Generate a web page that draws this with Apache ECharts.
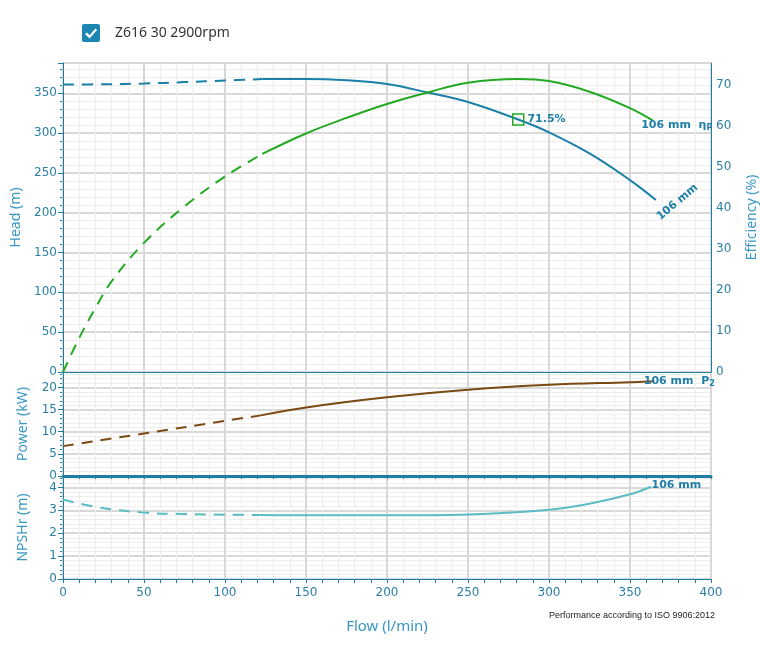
<!DOCTYPE html>
<html><head><meta charset="utf-8">
<script src="https://cdn.jsdelivr.net/npm/echarts@6/dist/echarts.min.js"></script>
<style>html,body{margin:0;padding:0;background:#fff}#c{width:760px;height:653px}</style>
</head><body><div id="c"></div>
<script>
// ---------------- data ----------------
const seriesName = 'Z616 30 2900rpm';
const impeller = '106 mm';
const footnote = 'Performance according to ISO 9906:2012';

// Head (m) vs flow (l/min)
const headDashFlow = [0, 25, 50, 75, 100, 123];
const headDashVal  = [361, 361.3, 362.2, 364, 366, 367.8];
const headFlow = [123, 150, 175, 200, 225, 250, 281, 300, 325, 350, 366];
const headVal  = [367.8, 368, 366.3, 361.5, 351, 339, 317, 301, 274.5, 241, 216];

// Efficiency (%)
const effDashFlow = [0, 10, 20, 30, 50, 75, 100, 123];
const effDashVal  = [0, 8.3, 15.6, 22.1, 31.5, 40.4, 47.7, 53.2];
const effFlow = [123, 150, 175, 200, 225, 250, 281, 300, 325, 350, 364];
const effVal  = [53.2, 58.2, 62, 65.4, 68.2, 70.6, 71.5, 71.0, 68.4, 64.4, 61.4];

// Power P2 (kW)
const powDashFlow = [0, 50, 100, 122];
const powDashVal  = [6.75, 9.6, 12.45, 13.7];
const powFlow = [122, 150, 200, 250, 300, 350, 365];
const powVal  = [13.7, 15.5, 17.8, 19.5, 20.6, 21.2, 21.4];

// NPSHr (m)
const npshDashFlow = [0, 21, 50, 75, 100, 122];
const npshDashVal  = [3.47, 3.14, 2.90, 2.84, 2.81, 2.80];
const npshFlow = [122, 150, 200, 250, 300, 325, 350, 363];
const npshVal  = [2.80, 2.78, 2.78, 2.82, 3.03, 3.29, 3.70, 4.03];

// Best efficiency point
const bepFlow = 281;
const bepHead = 317;
const bepEff = 71.5;

// Axis ranges
const flowMax = 400, flowStep = 50;
const headMax = 388, headStep = 50, headMinor = 10;
const effMax = 75.4, effStep = 10;
const powMax = 23.5, powStep = 5, powMinor = 1;
const npshMax = 4.5, npshStep = 1, npshMinor = 0.2;

// ---------------- style ----------------
const AX = '#1f7fa3', LBL = '#2a7fa6', NAME = '#3a97c4', MAJ = '#d8d8d8', MIN = '#eeeeee';
const C_HEAD = '#1b80a8', C_EFF = '#22aa22', C_POW = '#7a4a12', C_NPSH = '#5cbcc4', C_TXT = '#1f7ea7';
const TICKFONT = 'DejaVu Sans', NAMEFONT = 'Noto Sans';
const DASH = [11, 8];

const pairs = (xs, ys) => xs.map((x, i) => [x, ys[i]]);
const last = (arr) => arr[arr.length - 1];
const isMult = (v, s) => Math.abs(v / s - Math.round(v / s)) < 1e-6;

function xAx(grid, extra) {
  return Object.assign({
    type: 'value', gridIndex: grid, min: 0, max: flowMax, interval: flowStep, z: 1,
    axisLine: { show: true, onZero: false, lineStyle: { color: AX, width: 1 } },
    axisTick: { show: false }, axisLabel: { show: false },
    splitLine: { show: true, lineStyle: { color: MAJ, width: 2 } },
    minorTick: { show: false, splitNumber: 5 },
    minorSplitLine: { show: true, lineStyle: { color: MIN, width: 1 } }
  }, extra || {});
}
function yMajor(grid, max, step, name) {
  return {
    type: 'value', gridIndex: grid, position: 'left', min: 0, max: max, interval: step, z: 1,
    axisLine: { show: true, onZero: false, lineStyle: { color: AX } },
    axisTick: { show: true, length: 5, lineStyle: { color: AX } },
    axisLabel: { color: LBL, fontSize: 12, fontFamily: TICKFONT, margin: 6,
      formatter: v => isMult(v, step) ? String(v) : '' },
    splitLine: { show: true, lineStyle: { color: MAJ, width: 2 } },
    name: name, nameLocation: 'middle', nameGap: 33,
    nameTextStyle: { color: NAME, fontSize: 14, fontFamily: NAMEFONT }
  };
}
function yMinor(grid, max, step) {
  return {
    type: 'value', gridIndex: grid, position: 'left', min: 0, max: max, interval: step, z: 0,
    axisLine: { show: false }, axisLabel: { show: false },
    axisTick: { show: true, length: 3, lineStyle: { color: AX } },
    splitLine: { show: true, lineStyle: { color: MIN, width: 1 } }
  };
}
function line(name, xi, yi, data, color, dashed, extra) {
  return Object.assign({
    type: 'line', name: name, xAxisIndex: xi, yAxisIndex: yi, data: data,
    smooth: 0.4, showSymbol: false, symbol: 'none', silent: true,
    lineStyle: { color: color, width: 2, type: dashed ? DASH : 'solid' },
    itemStyle: { color: color }
  }, extra || {});
}
const endLabelStyle = { color: C_TXT, fontSize: 11, fontWeight: 'bold', fontFamily: TICKFONT };
function endMark(xs, ys, label) {
  return {
    silent: true, animation: false,
    data: [{ coord: [last(xs), last(ys)], symbol: 'circle', symbolSize: 1,
      itemStyle: { color: 'rgba(0,0,0,0)' },
      label: Object.assign({ show: true, position: 'right' }, endLabelStyle, label) }]
  };
}

const CHECK = 'path://M2 0L16 0Q18 0 18 2L18 16Q18 18 16 18L2 18Q0 18 0 16L0 2Q0 0 2 0Z' +
  'M3.15 10.15L7.6 14.5L15.1 6.1L13.3 4.5L7.6 11.3L4.85 8.45Z';

const gridBase = { show: true, borderColor: AX, borderWidth: 1, outerBoundsMode: 'none', containLabel: false };

const option = {
  animation: false,
  backgroundColor: '#ffffff',
  legend: {
    left: 82, top: 24, padding: 0, itemWidth: 18, itemHeight: 18, selectedMode: false,
    data: [{ name: seriesName, icon: CHECK, itemStyle: { color: '#1b86b2', borderWidth: 0 } }],
    textStyle: { fontSize: 14, color: '#333', fontFamily: NAMEFONT, padding: [0, 0, 0, 10] }
  },
  grid: [
    Object.assign({ left: 63, top: 63, width: 648, height: 309 }, gridBase),
    Object.assign({ left: 63, top: 372, width: 648, height: 104 }, gridBase),
    Object.assign({ left: 63, top: 476, width: 648, height: 103 }, gridBase)
  ],
  xAxis: [
    xAx(0),
    xAx(1, { axisLine: { show: true, onZero: false, lineStyle: { color: AX, width: 3 } },
             axisTick: { show: true, length: 3, lineStyle: { color: AX } },
             minorTick: { show: true, splitNumber: 5, length: 3, lineStyle: { color: AX } } }),
    xAx(2, { axisTick: { show: true, length: 4, lineStyle: { color: AX } },
             minorTick: { show: true, splitNumber: 5, length: 4, lineStyle: { color: AX } },
             axisLabel: { show: true, color: LBL, fontSize: 12, fontFamily: TICKFONT, margin: 8 },
             name: 'Flow (l/min)', nameLocation: 'middle', nameGap: 40,
             nameTextStyle: { color: NAME, fontSize: 15, fontFamily: NAMEFONT } })
  ],
  yAxis: [
    yMajor(0, headMax, headStep, 'Head (m)'),
    yMinor(0, headMax, headMinor),
    { type: 'value', gridIndex: 0, position: 'right', min: 0, max: effMax, interval: effStep, z: 1,
      axisLine: { show: true, onZero: false, lineStyle: { color: AX } },
      axisTick: { show: false }, splitLine: { show: false },
      axisLabel: { color: LBL, fontSize: 12, fontFamily: TICKFONT, margin: 5,
        formatter: v => isMult(v, effStep) ? String(v) : '' },
      name: 'Efficiency (%)', nameLocation: 'middle', nameGap: 34,
      nameTextStyle: { color: NAME, fontSize: 14, fontFamily: NAMEFONT } },
    yMajor(1, powMax, powStep, 'Power (kW)'),
    yMinor(1, powMax, powMinor),
    yMajor(2, npshMax, npshStep, 'NPSHr (m)'),
    yMinor(2, npshMax, npshMinor)
  ],
  series: [
    line('head-dash', 0, 0, pairs(headDashFlow, headDashVal), C_HEAD, true),
    line(seriesName, 0, 0, pairs(headFlow, headVal), C_HEAD, false, {
      markPoint: {
        silent: true, animation: false,
        data: [
          { coord: [bepFlow, bepHead], symbol: 'rect', symbolSize: 11,
            itemStyle: { color: 'rgba(0,0,0,0)', borderColor: C_EFF, borderWidth: 1.5 },
            label: Object.assign({ show: true, position: 'right', distance: 3,
              formatter: bepEff.toFixed(1) + '%' }, endLabelStyle) },
          { coord: [last(headFlow), last(headVal)], symbol: 'circle', symbolSize: 1,
            itemStyle: { color: 'rgba(0,0,0,0)' },
            label: Object.assign({ show: true, position: 'right', rotate: 40, offset: [-14, 12],
              formatter: impeller }, endLabelStyle) }
        ]
      }
    }),
    line('eff-dash', 0, 2, pairs(effDashFlow, effDashVal), C_EFF, true),
    line('eff', 0, 2, pairs(effFlow, effVal), C_EFF, false, {
      markPoint: endMark(effFlow, effVal, {
        offset: [-17, 5], formatter: '{a|' + impeller + '  η}{s|P}',
        rich: { a: endLabelStyle, s: Object.assign({}, endLabelStyle, { fontSize: 8, verticalAlign: 'bottom', padding: [6, 0, 0, 0] }) }
      })
    }),
    line('pow-dash', 1, 3, pairs(powDashFlow, powDashVal), C_POW, true),
    line('pow', 1, 3, pairs(powFlow, powVal), C_POW, false, {
      markPoint: endMark(powFlow, powVal, {
        offset: [-16, 0], formatter: '{a|' + impeller + '  P}{s|2}',
        rich: { a: endLabelStyle, s: Object.assign({}, endLabelStyle, { fontSize: 8, verticalAlign: 'bottom', padding: [6, 0, 0, 0] }) }
      })
    }),
    line('npsh-dash', 2, 5, pairs(npshDashFlow, npshDashVal), C_NPSH, true),
    line('npsh', 2, 5, pairs(npshFlow, npshVal), C_NPSH, false, {
      markPoint: endMark(npshFlow, npshVal, { offset: [-5, -2], formatter: impeller })
    })
  ],
  graphic: [
    { type: 'text', left: 549, top: 611, silent: true,
      style: { text: footnote, fontSize: 9, fill: '#222', fontFamily: 'Liberation Sans' } }
  ]
};

const chart = echarts.init(document.getElementById('c'), null, { renderer: 'canvas' });
chart.setOption(option);
</script>
</body></html>
